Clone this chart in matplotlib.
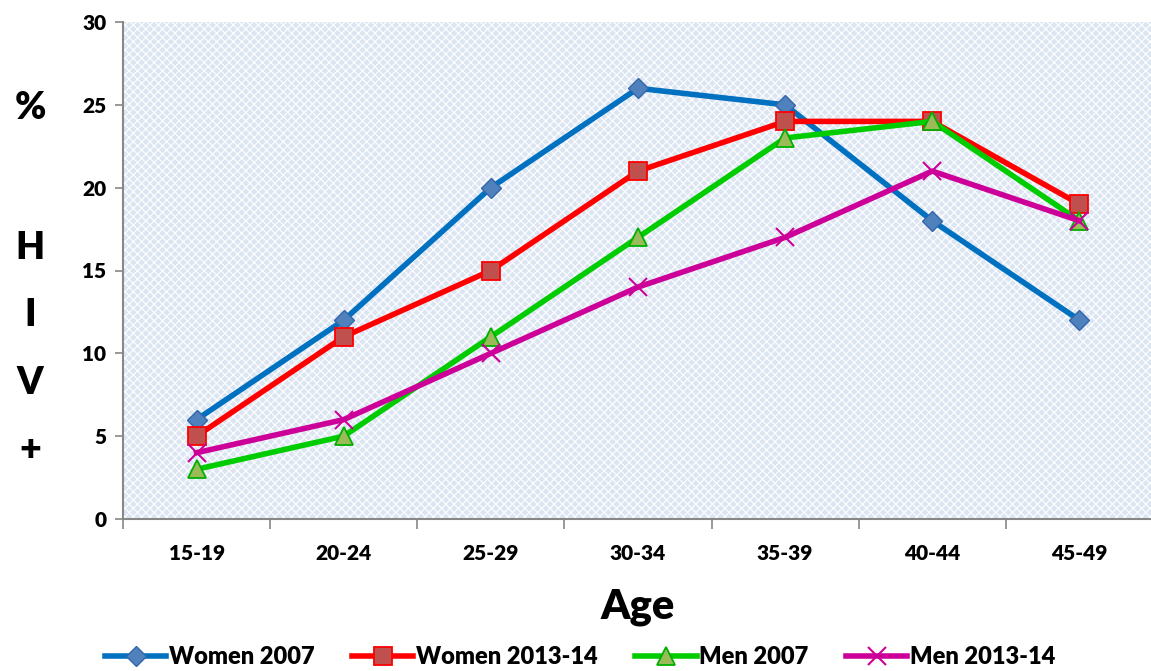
import matplotlib
matplotlib.use("Agg")
import matplotlib.pyplot as plt
from matplotlib.patches import Rectangle

ages = ["15-19", "20-24", "25-29", "30-34", "35-39", "40-44", "45-49"]
women_2007 = [6, 12, 20, 26, 25, 18, 12]
women_2013 = [5, 11, 15, 21, 24, 24, 19]
men_2007 = [3, 5, 11, 17, 23, 24, 18]
men_2013 = [4, 6, 10, 14, 17, 21, 18]

plt.rcParams['font.family'] = ['Lato', 'DejaVu Sans']
plt.rcParams['hatch.color'] = 'white'
plt.rcParams['hatch.linewidth'] = 0.8

W = 'heavy'

fig = plt.figure(figsize=(11.51, 6.71), dpi=100)
ax = fig.add_axes([123/1151, 1 - 519/671, 1030/1151, 497/671])

x = list(range(len(ages)))

# patterned background
ax.set_facecolor('#dce6f3')
ax.add_patch(Rectangle((0, 0), 1, 1, transform=ax.transAxes, facecolor='none',
                       edgecolor='white', hatch='xxxx', linewidth=0, zorder=0.5))

ax.plot(x, women_2007, color='#0070c0', lw=4, marker='D', ms=10,
        mfc='#4f81bd', mec='#3366aa', mew=1, label='Women 2007', zorder=3)
ax.plot(x, women_2013, color='#ff0000', lw=4, marker='s', ms=13,
        mfc='#c0504d', mec='#ff0000', mew=1.3, label='Women 2013-14', zorder=3)
ax.plot(x, men_2007, color='#00cc00', lw=4, marker='^', ms=13,
        mfc='#9bbb59', mec='#00b000', mew=1.3, label='Men 2007', zorder=3)
ax.plot(x, men_2013, color='#cc0099', lw=4, marker='x', ms=13,
        mec='#cc0099', mew=1.5, label='Men 2013-14', zorder=3)

ax.set_xlim(-0.5, len(ages) - 0.5)
ax.set_ylim(0, 30)
ax.set_yticks(range(0, 31, 5))
ax.set_xticks(x)
ax.set_xticklabels(ages, fontsize=15, fontweight=W)
ax.tick_params(axis='x', length=0, pad=18)
ax.set_xticks([i + 0.5 for i in range(-1, len(ages))], minor=True)
ax.tick_params(axis='x', which='minor', length=7, color='#888888', width=1.2)
ax.tick_params(axis='y', length=6, color='#888888', width=1.2, labelsize=15, pad=6)
for t in ax.get_yticklabels():
    t.set_fontweight(W)

for s in ['top', 'right']:
    ax.spines[s].set_visible(False)
for s in ['left', 'bottom']:
    ax.spines[s].set_color('#888888')
    ax.spines[s].set_linewidth(1.5)

# stacked y label
for ch, yp in zip(["%", "H", "I", "V", "+"], [108, 248, 315, 383, 450]):
    fig.text(30/1151, 1 - yp/671, ch, fontsize=27, fontweight=W,
             ha='center', va='center')

fig.text(638/1151, 1 - 607/671, "Age", fontsize=30, fontweight=W,
         ha='center', va='center')

fig.legend(loc='center', bbox_to_anchor=(580/1151, 1 - 657/671), ncol=4,
           frameon=False, prop={'size': 17, 'weight': W},
           handlelength=2.6, handletextpad=0.1, columnspacing=1.6,
           borderaxespad=0)

fig.savefig('out.png', dpi=100)
